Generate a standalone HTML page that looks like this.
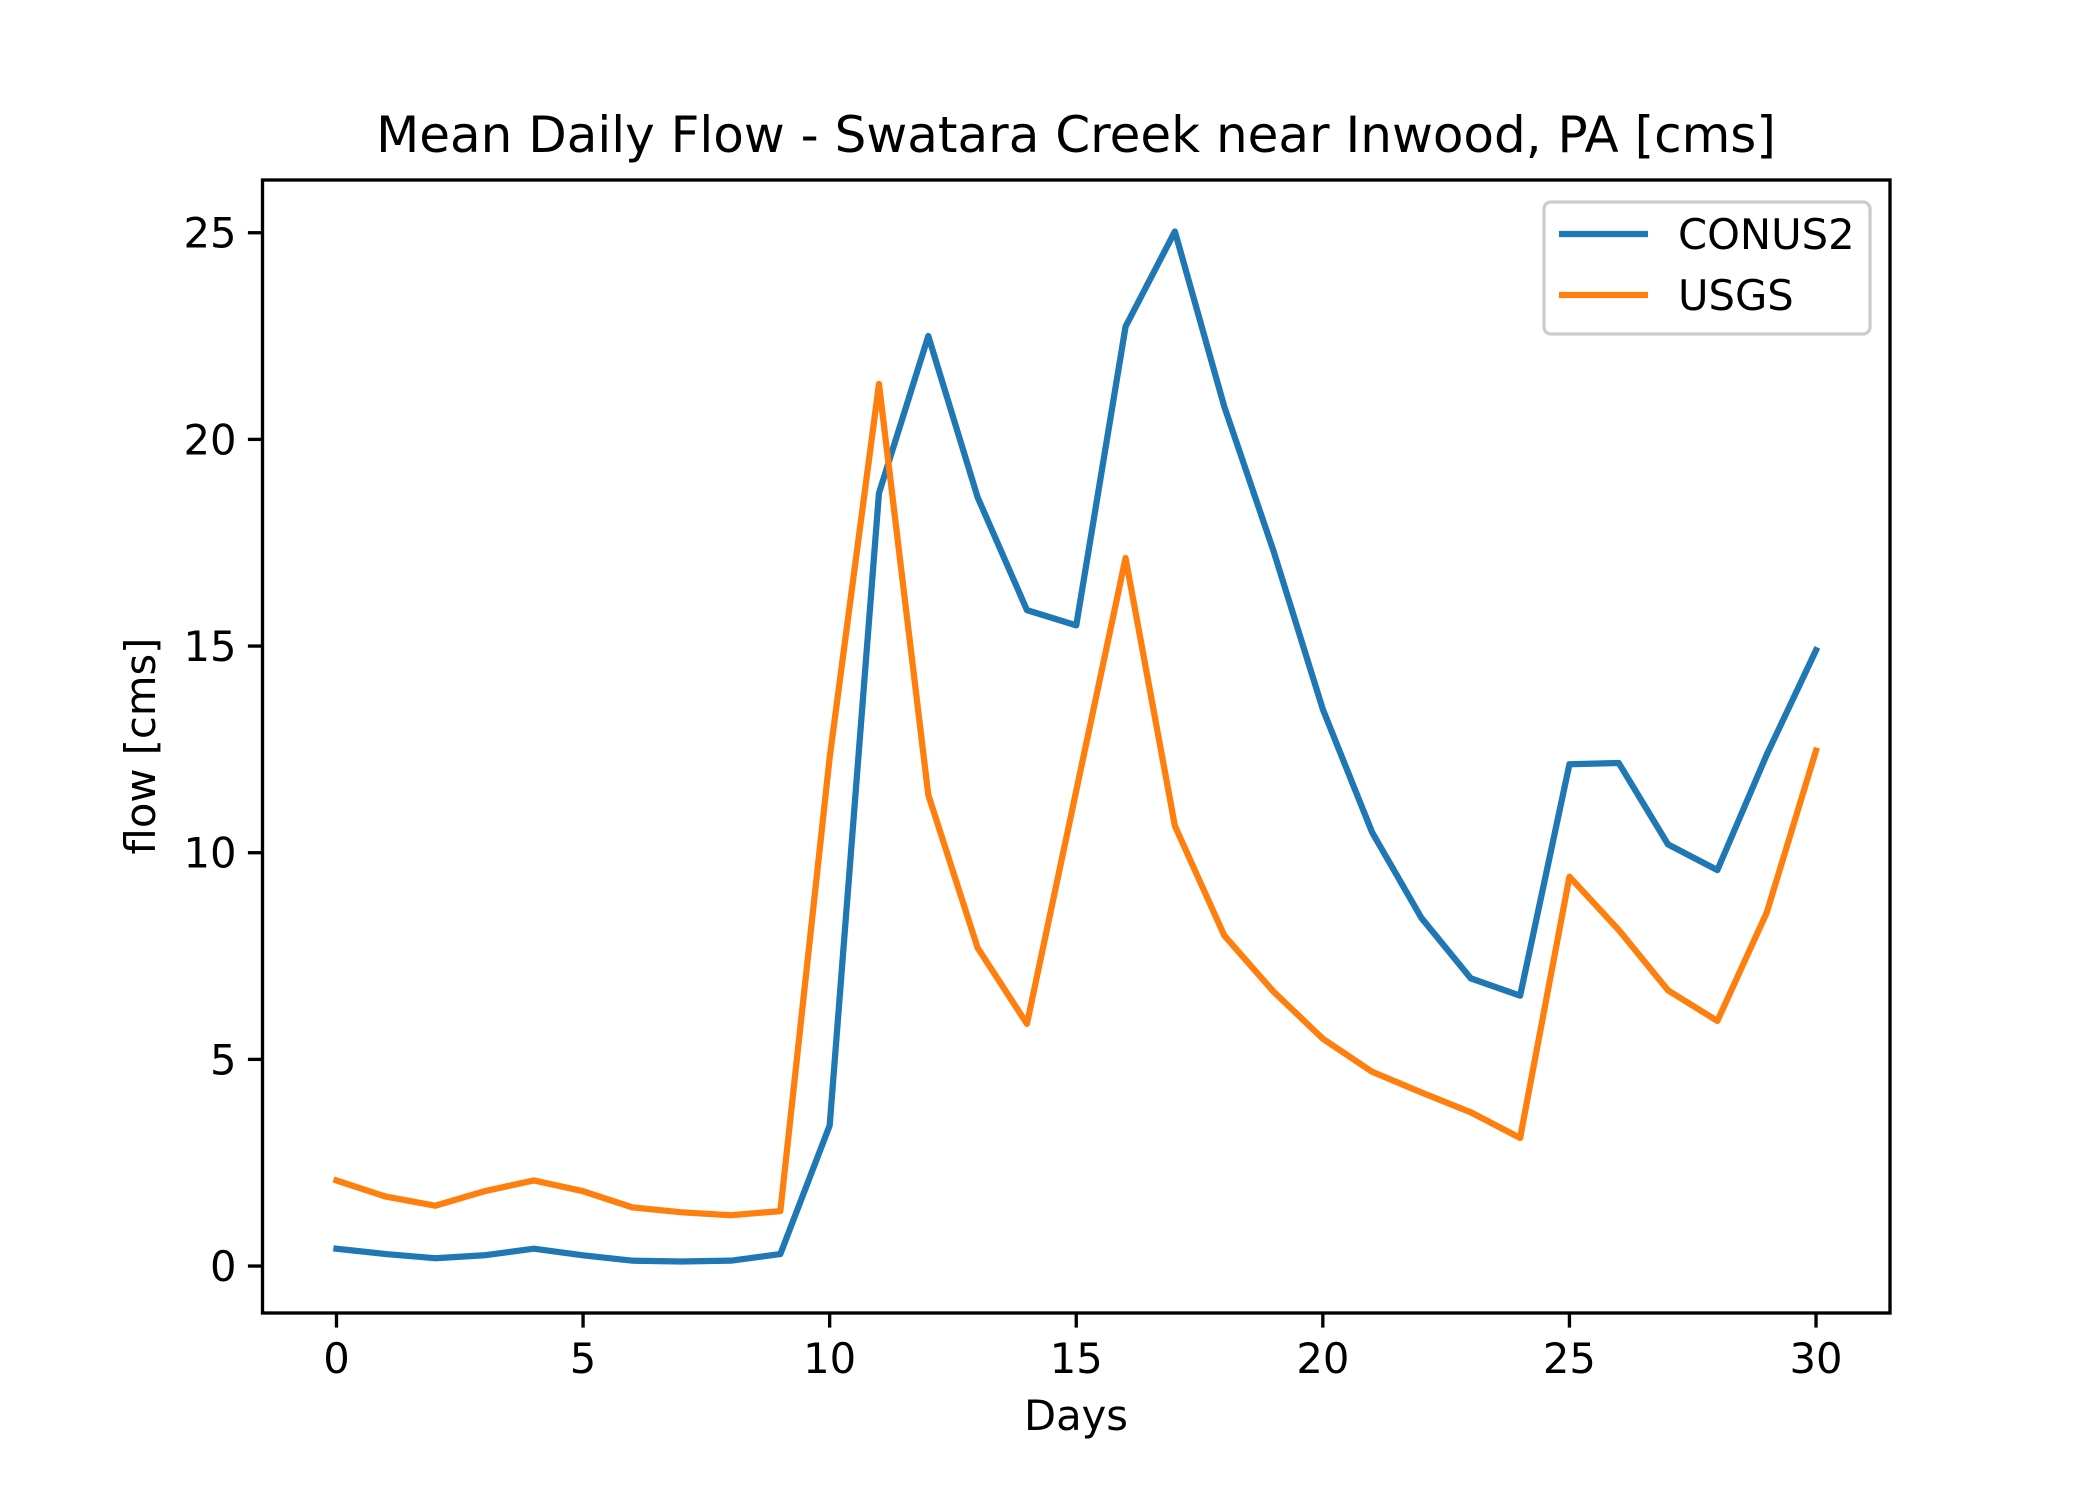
<!DOCTYPE html>
<html><head><meta charset="utf-8"><style>
html,body{margin:0;padding:0;background:#fff;}
svg{display:block;font-family:"DejaVu Sans","Liberation Sans",sans-serif;}
</style></head><body>
<svg id="chart" width="2100" height="1500" viewBox="0 0 2100 1500" xmlns="http://www.w3.org/2000/svg">
<rect width="2100" height="1500" fill="#fff"/>
<text x="1076" y="152" font-size="50" text-anchor="middle" fill="#000">Mean Daily Flow - Swatara Creek near Inwood, PA [cms]</text>
<g id="plot"></g>
<text x="1076" y="1430" font-size="41.7" text-anchor="middle">Days</text>
<text transform="translate(155,746) rotate(-90)" font-size="41.7" text-anchor="middle">flow [cms]</text>
</svg>
<script>
const days = Array.from({length:31},(_,i)=>i);
const conus2 = [0.42,0.29,0.19,0.26,0.42,0.26,0.13,0.11,0.13,0.29,3.4,18.7,22.5,18.6,15.87,15.5,22.73,25.03,20.8,17.3,13.47,10.49,8.42,6.96,6.54,12.14,12.17,10.2,9.58,12.37,14.9];
const usgs = [2.07,1.68,1.46,1.81,2.07,1.81,1.42,1.3,1.23,1.33,12.3,21.34,11.4,7.7,5.86,11.5,17.13,10.65,8.0,6.64,5.5,4.7,4.2,3.72,3.1,9.42,8.13,6.67,5.93,8.55,12.47];
const xTicks = [0,5,10,15,20,25,30];
const yTicks = [0,5,10,15,20,25];
const seriesNames = ["CONUS2","USGS"];

const NS="http://www.w3.org/2000/svg";
const L=262.5,R=1890,T=180,B=1313;
const xmin=Math.min(...days),xmax=Math.max(...days),xm=(xmax-xmin)*0.05;
const all=conus2.concat(usgs);
const ymin=Math.min(...all),ymax=Math.max(...all),ym=(ymax-ymin)*0.05;
const X=v=>L+(v-(xmin-xm))/((xmax+xm)-(xmin-xm))*(R-L);
const Y=v=>B-(v-(ymin-ym))/((ymax+ym)-(ymin-ym))*(B-T);
const g=document.getElementById('plot');
function mk(t,a){const e=document.createElementNS(NS,t);for(const k in a)e.setAttribute(k,a[k]);g.appendChild(e);return e;}
const colors=["#1f77b4","#ff7f0e"];
[conus2,usgs].forEach((s,i)=>{
  const p=mk('polyline',{points:s.map((v,j)=>X(days[j])+','+Y(v)).join(' '),fill:'none',stroke:colors[i],'stroke-width':6.25,'stroke-linejoin':'round','stroke-linecap':'square'});
  
  
});
xTicks.forEach(v=>{
  const l=mk('line',{x1:X(v),x2:X(v),y1:B,y2:B+14.6,stroke:'#000','stroke-width':3.33});
  
  
  const t=mk('text',{x:X(v),y:B+60,'font-size':41.7,'text-anchor':'middle'});t.textContent=v;
  
  
});
yTicks.forEach(v=>{
  const l=mk('line',{x1:L-14.6,x2:L,y1:Y(v),y2:Y(v),stroke:'#000','stroke-width':3.33});
  
  
  const t=mk('text',{x:L-26,y:Y(v)+15,'font-size':41.7,'text-anchor':'end'});t.textContent=v;
  
  
});
const fr=mk('rect',{x:L,y:T,width:R-L,height:B-T,fill:'none',stroke:'#000','stroke-width':3.33});


const lg=mk('rect',{x:1544,y:202,width:326,height:132,rx:7,fill:'#fff','fill-opacity':0.8,stroke:'#ccc','stroke-width':3.33});


seriesNames.forEach((n,i)=>{
  const yy=234+i*61;
  const l=mk('line',{x1:1559,x2:1648,y1:yy,y2:yy,stroke:colors[i],'stroke-width':6.25});
  
  
  const t=mk('text',{x:1678,y:yy+15,'font-size':41.7});t.textContent=n;
  
  
});
</script>
</body></html>
